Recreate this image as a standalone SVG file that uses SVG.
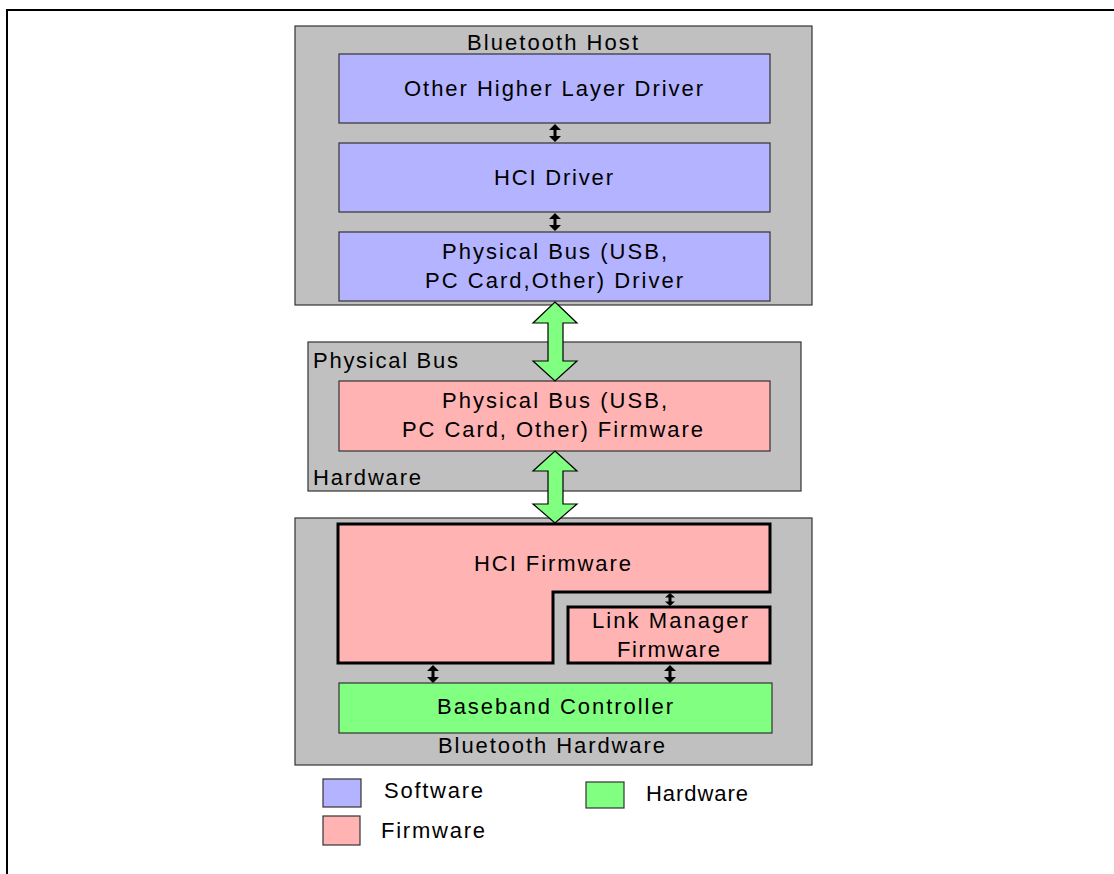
<svg xmlns="http://www.w3.org/2000/svg" width="1114" height="874" viewBox="0 0 1114 874">
<style>
text { font-family: "Liberation Sans", Arial, sans-serif; font-size: 22px; fill: #000; }
.gray { fill: #C0C0C0; stroke: #333; stroke-width: 1.2; }
.sw { fill: #B3B3FF; stroke: #333; stroke-width: 1.2; }
.fw { fill: #FFB3B3; stroke: #333; stroke-width: 1.2; }
.fwb { fill: #FFB3B3; stroke: #000; stroke-width: 3; }
.hw { fill: #80FF80; stroke: #333; stroke-width: 1.2; }
.big { fill: #80FF80; stroke: #000; stroke-width: 1.2; stroke-linejoin: miter; }
.small { fill: #000; stroke: none; }
</style>
<rect width="1114" height="874" fill="#fff"/>
<g id="frame">
<line x1="6" y1="10" x2="1114" y2="10" stroke="#000" stroke-width="2"/>
<line x1="7" y1="9" x2="7" y2="874" stroke="#000" stroke-width="2"/>
</g>
<g id="bluetooth-host">
<rect class="gray" x="295" y="26" width="517" height="279"/>
<text x="467" y="50" textLength="171" lengthAdjust="spacing">Bluetooth Host</text>
</g>
<g id="other-higher-layer-driver">
<rect class="sw" x="339" y="54" width="431" height="69"/>
<text x="404" y="96" textLength="299" lengthAdjust="spacing">Other Higher Layer Driver</text>
</g>
<g id="hci-driver">
<rect class="sw" x="339" y="143" width="431" height="69"/>
<text x="494" y="185" textLength="119" lengthAdjust="spacing">HCI Driver</text>
</g>
<g id="physical-bus-driver">
<rect class="sw" x="339" y="232" width="431" height="69"/>
<text x="442" y="259" textLength="225" lengthAdjust="spacing">Physical Bus (USB,</text>
<text x="425" y="288" textLength="258" lengthAdjust="spacing">PC Card,Other) Driver</text>
</g>
<g id="physical-bus">
<rect class="gray" x="308" y="342" width="493" height="149"/>
<text x="313" y="368" textLength="145" lengthAdjust="spacing">Physical Bus</text>
<text x="313" y="485" textLength="108" lengthAdjust="spacing">Hardware</text>
</g>
<g id="physical-bus-firmware">
<rect class="fw" x="339" y="381" width="431" height="70"/>
<text x="442" y="408" textLength="225" lengthAdjust="spacing">Physical Bus (USB,</text>
<text x="402" y="437" textLength="301" lengthAdjust="spacing">PC Card, Other) Firmware</text>
</g>
<g id="bluetooth-hardware">
<rect class="gray" x="295" y="518" width="517" height="247"/>
<text x="438" y="753" textLength="227" lengthAdjust="spacing">Bluetooth Hardware</text>
</g>
<g id="hci-firmware">
<polygon class="fwb" points="338,524 770,524 770,592 553,592 553,663 338,663"/>
<text x="474" y="571" textLength="157" lengthAdjust="spacing">HCI Firmware</text>
</g>
<g id="link-manager-firmware">
<rect class="fwb" x="568" y="607" width="202" height="56"/>
<text x="592" y="628" textLength="156" lengthAdjust="spacing">Link Manager</text>
<text x="617" y="657" textLength="103" lengthAdjust="spacing">Firmware</text>
</g>
<g id="baseband-controller">
<rect class="hw" x="339" y="683" width="433" height="50"/>
<text x="437" y="714" textLength="236" lengthAdjust="spacing">Baseband Controller</text>
</g>
<g id="connectors">
<polygon class="big" points="555,302 577,323 563,323 563,361 577,361 555,381 533,361 548,361 548,323 533,323"/>
<polygon class="big" points="555,451 577,471 563,471 563,504 577,504 555,523 533,504 548,504 548,471 533,471"/>
<path class="small" d="M555,124 l6,6 h-4.5 v6 h4.5 l-6,6 l-6,-6 h4.5 v-6 h-4.5 z"/>
<path class="small" d="M555,213 l6,6 h-4.5 v6 h4.5 l-6,6 l-6,-6 h4.5 v-6 h-4.5 z"/>
<path class="small" d="M670,593 l5,4.5 h-3.5 v4 h3.5 l-5,4.5 l-5,-4.5 h3.5 v-4 h-3.5 z"/>
<path class="small" d="M433,665 l6,6 h-4.5 v6 h4.5 l-6,6 l-6,-6 h4.5 v-6 h-4.5 z"/>
<path class="small" d="M670,665 l6,6 h-4.5 v6 h4.5 l-6,6 l-6,-6 h4.5 v-6 h-4.5 z"/>
</g>
<g id="legend">
<rect class="sw" x="323" y="779" width="38" height="28"/>
<text x="384" y="798" textLength="99" lengthAdjust="spacing">Software</text>
<rect class="fw" x="323" y="816" width="37" height="29"/>
<text x="381" y="838" textLength="104" lengthAdjust="spacing">Firmware</text>
<rect class="hw" x="586" y="782" width="38" height="26"/>
<text x="646" y="801" textLength="102" lengthAdjust="spacing">Hardware</text>
</g>
</svg>
